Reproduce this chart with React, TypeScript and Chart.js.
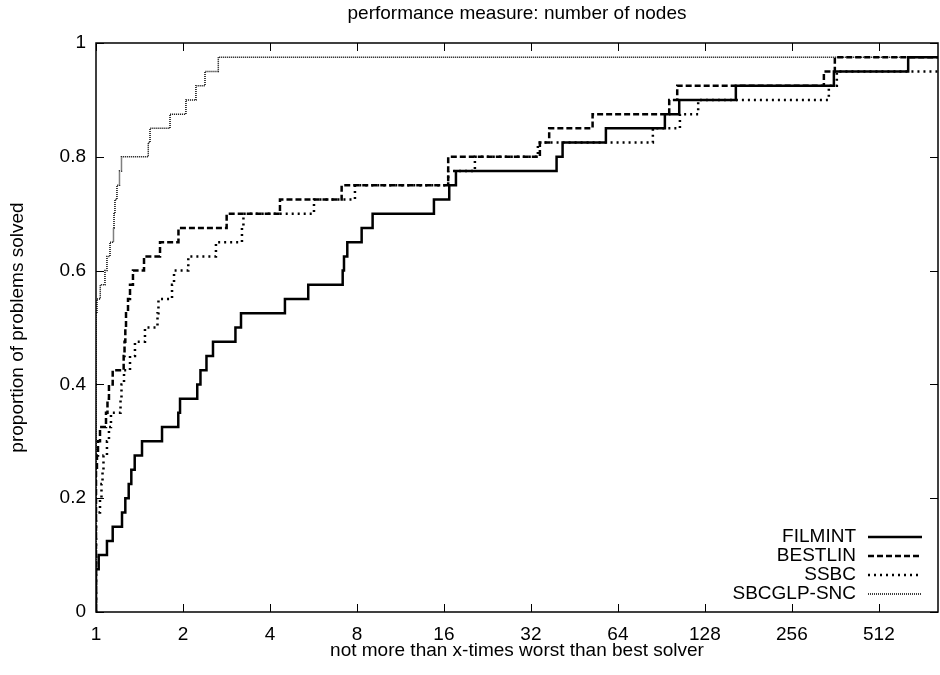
import React, { useEffect, useRef } from "react";
import { Chart, registerables } from "chart.js";

Chart.register(...registerables);

// x values are log2 of the performance ratio (1 -> 0, 2 -> 1, ...)
const xTickValues = [0, 1, 2, 3, 4, 5, 6, 7, 8, 9];
const xTickLabels = ["1", "2", "4", "8", "16", "32", "64", "128", "256", "512"];
const yTickValues = [0, 0.2, 0.4, 0.6, 0.8, 1];
const yTickLabels = ["0", "0.2", "0.4", "0.6", "0.8", "1"];
const X_MAX = 9.68;

const seriesNames = ["FILMINT", "BESTLIN", "SSBC", "SBCGLP-SNC"];

const filmintX = [0, 0.031, 0.126, 0.192, 0.299, 0.337, 0.376, 0.406, 0.445, 0.529, 0.759, 0.946, 0.966, 1.164, 1.201, 1.27, 1.345, 1.603, 1.667, 2.172, 2.44, 2.836, 2.851, 2.889, 3.054, 3.18, 3.885, 4.061, 4.138, 5.295, 5.364, 5.862, 6.54, 6.705, 7.356, 8.483, 9.337];
const filmintY = [0.075, 0.1, 0.125, 0.15, 0.175, 0.2, 0.225, 0.25, 0.275, 0.3, 0.325, 0.35, 0.375, 0.4, 0.425, 0.45, 0.475, 0.5, 0.525, 0.55, 0.575, 0.6, 0.625, 0.65, 0.675, 0.7, 0.725, 0.75, 0.775, 0.8, 0.825, 0.85, 0.875, 0.9, 0.925, 0.95, 0.975];

const bestlinX = [0, 0.011, 0.023, 0.046, 0.115, 0.132, 0.149, 0.192, 0.318, 0.328, 0.337, 0.345, 0.368, 0.391, 0.425, 0.552, 0.736, 0.948, 1.502, 2.115, 2.824, 4.049, 5.103, 5.21, 5.709, 6.59, 6.682, 8.368, 8.494];
const bestlinY = [0.25, 0.275, 0.3, 0.325, 0.35, 0.375, 0.4, 0.425, 0.45, 0.475, 0.5, 0.525, 0.55, 0.575, 0.6, 0.625, 0.65, 0.675, 0.7, 0.725, 0.75, 0.8, 0.825, 0.85, 0.875, 0.9, 0.925, 0.95, 0.975];

const ssbcX = [0, 0.046, 0.063, 0.075, 0.086, 0.126, 0.149, 0.172, 0.282, 0.293, 0.322, 0.391, 0.448, 0.563, 0.707, 0.718, 0.874, 0.897, 1.061, 1.379, 1.678, 1.695, 2.506, 2.977, 4.049, 4.356, 5.08, 6.402, 6.713, 6.923, 8.425, 8.517];
const ssbcY = [0.175, 0.2, 0.225, 0.25, 0.275, 0.3, 0.325, 0.35, 0.375, 0.4, 0.425, 0.45, 0.475, 0.5, 0.525, 0.55, 0.575, 0.6, 0.625, 0.65, 0.675, 0.7, 0.725, 0.75, 0.775, 0.8, 0.825, 0.85, 0.875, 0.9, 0.925, 0.95];

const sbcglpX = [0, 0.011, 0.049, 0.103, 0.126, 0.161, 0.201, 0.207, 0.218, 0.241, 0.27, 0.293, 0.601, 0.621, 0.851, 1.034, 1.149, 1.253, 1.406];
const sbcglpY = [0.525, 0.55, 0.575, 0.6, 0.625, 0.65, 0.675, 0.7, 0.725, 0.75, 0.775, 0.8, 0.825, 0.85, 0.875, 0.9, 0.925, 0.95, 0.975];

const FONT = "'Liberation Sans', Arial, Helvetica, sans-serif";
const FS = 19;

function stepPoints(xs: number[], ys: number[]) {
  const pts = [{ x: 0, y: 0 }];
  xs.forEach((x, i) => pts.push({ x, y: ys[i] }));
  pts.push({ x: X_MAX, y: ys[ys.length - 1] });
  return pts;
}

const styles = [
  { width: 2.5, dash: [] as number[], color: "#000" },
  { width: 2.5, dash: [6, 3], color: "#000" },
  { width: 2.5, dash: [2, 4], color: "#000" },
  { width: 1.5, dash: [1, 1], color: "#000" },
];

const framePlugin = {
  id: "gnuFrame",
  afterDatasetsDraw(chart: any) {
    const { ctx, chartArea } = chart;
    const { left, right, top, bottom } = chartArea;
    const xs = chart.scales.x;
    const ys = chart.scales.y;
    ctx.save();
    ctx.setLineDash([]);
    ctx.strokeStyle = "#000";
    ctx.lineWidth = 1.5;
    ctx.strokeRect(left, top, right - left, bottom - top);
    ctx.lineWidth = 1;
    const tl = 8;
    xTickValues.forEach((v) => {
      const px = Math.round(xs.getPixelForValue(v)) + 0.5;
      ctx.beginPath();
      ctx.moveTo(px, bottom);
      ctx.lineTo(px, bottom - tl);
      ctx.moveTo(px, top);
      ctx.lineTo(px, top + tl);
      ctx.stroke();
    });
    yTickValues.forEach((v) => {
      const py = Math.round(ys.getPixelForValue(v)) + 0.5;
      ctx.beginPath();
      ctx.moveTo(left, py);
      ctx.lineTo(left + tl, py);
      ctx.moveTo(right, py);
      ctx.lineTo(right - tl, py);
      ctx.stroke();
    });
    // key
    ctx.font = `${FS}px ${FONT}`;
    ctx.fillStyle = "#000";
    ctx.textAlign = "right";
    ctx.textBaseline = "middle";
    const rowY = [537, 556, 575, 594];
    seriesNames.forEach((name, i) => {
      const y = rowY[i];
      ctx.fillText(name, 856, y);
      const s = styles[i];
      ctx.beginPath();
      ctx.lineWidth = s.width;
      ctx.setLineDash(s.dash);
      ctx.moveTo(868, y);
      ctx.lineTo(922, y);
      ctx.stroke();
    });
    ctx.restore();
  },
};

export default function App() {
  const ref = useRef<HTMLCanvasElement | null>(null);
  useEffect(() => {
    if (!ref.current) return;
    const datasets = [
      [filmintX, filmintY],
      [bestlinX, bestlinY],
      [ssbcX, ssbcY],
      [sbcglpX, sbcglpY],
    ].map(([xs, ys], i) => ({
      label: seriesNames[i],
      data: stepPoints(xs as number[], ys as number[]),
      borderColor: styles[i].color,
      borderWidth: styles[i].width,
      borderDash: styles[i].dash,
      pointRadius: 0,
      stepped: "before" as const,
      fill: false,
    }));
    const tickFont = { family: FONT, size: FS, lineHeight: 1.2 };
    const chart = new Chart(ref.current, {
      type: "line",
      data: { datasets },
      plugins: [framePlugin],
      options: {
        animation: false,
        responsive: false,
        maintainAspectRatio: false,
        layout: { padding: { left: 0, right: 2, top: 0, bottom: 0 } },
        plugins: {
          legend: { display: false },
          tooltip: { enabled: false },
          title: { display: false },
        },
        scales: {
          x: {
            type: "linear",
            min: 0,
            max: X_MAX,
            afterFit: (s: any) => {
              s.height = 63;
            },
            afterBuildTicks: (s: any) => {
              s.ticks = xTickValues.map((v) => ({ value: v }));
            },
            grid: { display: false, drawTicks: false },
            border: { display: false },
            ticks: {
              autoSkip: false,
              maxRotation: 0,
              includeBounds: false,
              padding: 11,
              color: "#000",
              font: tickFont,
              callback: (v: any) => xTickLabels[xTickValues.indexOf(Number(v))] ?? "",
            },
            title: {
              display: true,
              text: "not more than x-times worst than best solver",
              color: "#000",
              font: tickFont,
              padding: { top: 0, bottom: 12.5 },
            },
          },
          xTop: {
            type: "linear",
            position: "top",
            min: 0,
            max: X_MAX,
            afterFit: (s: any) => {
              s.height = 43;
            },
            grid: { display: false, drawTicks: false },
            border: { display: false },
            ticks: { display: false },
            title: {
              display: true,
              text: "performance measure: number of nodes",
              color: "#000",
              font: tickFont,
              padding: { top: 2.5, bottom: 0 },
            },
          },
          y: {
            type: "linear",
            min: 0,
            max: 1,
            afterFit: (s: any) => {
              s.width = 96;
            },
            afterBuildTicks: (s: any) => {
              s.ticks = yTickValues.map((v) => ({ value: v }));
            },
            grid: { display: false, drawTicks: false },
            border: { display: false },
            ticks: {
              autoSkip: false,
              padding: 10,
              color: "#000",
              font: tickFont,
              callback: (v: any) => yTickLabels[yTickValues.indexOf(Number(v))] ?? "",
            },
            title: {
              display: true,
              text: "proportion of problems solved",
              color: "#000",
              font: tickFont,
              padding: { top: 6, bottom: 0 },
            },
          },
        },
      },
    } as any);
    return () => chart.destroy();
  }, []);
  return (
    <div style={{ position: "fixed", left: 0, top: 0, width: 940, height: 675, background: "#fff" }}>
      <canvas ref={ref} width={940} height={675} style={{ display: "block", width: 940, height: 675 }} />
    </div>
  );
}
